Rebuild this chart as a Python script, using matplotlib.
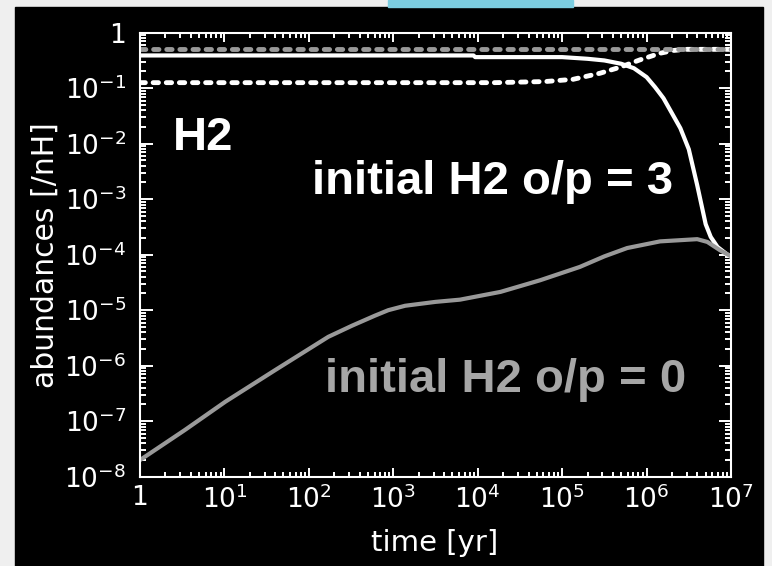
import numpy as np
import matplotlib
matplotlib.use("Agg")
import matplotlib.pyplot as plt
from matplotlib.patches import Rectangle
from matplotlib.ticker import LogLocator, FuncFormatter, NullFormatter

# values, as log10(time/yr) and log10(abundance/nH)
# initial o/p = 3 : ortho (solid white) and para (dashed white)
ortho3_logt = [0, 3.95, 3.97, 5.0, 5.3, 5.5, 5.7, 5.85, 6.0, 6.1, 6.2, 6.3, 6.4,
               6.5, 6.6, 6.7, 6.76, 6.84, 6.95, 7.0]
ortho3_logx = [-0.41, -0.41, -0.44, -0.44, -0.47, -0.50, -0.56, -0.64, -0.80, -0.98,
               -1.18, -1.45, -1.72, -2.10, -2.75, -3.45, -3.68, -3.86, -3.99, -4.04]
para3_logt = [0, 4.2, 4.8, 5.13, 5.45, 5.69, 5.92, 6.16, 6.32, 6.45, 6.6, 7.0]
para3_logx = [-0.90, -0.90, -0.88, -0.84, -0.73, -0.62, -0.49, -0.37, -0.32, -0.30,
              -0.30, -0.30]
# initial o/p = 0 : ortho (solid grey) and para (dashed grey)
ortho0_logt = [0, 0.53, 1.01, 1.6, 2.23, 2.51, 2.78, 2.94, 3.14, 3.5, 3.79, 4.27,
               4.74, 5.21, 5.5, 5.77, 6.16, 6.6, 6.72, 6.87, 7.0]
ortho0_logx = [-7.70, -7.16, -6.65, -6.08, -5.48, -5.28, -5.10, -5.00, -4.92, -4.85,
               -4.81, -4.67, -4.46, -4.22, -4.03, -3.88, -3.76, -3.72, -3.77, -3.92,
               -4.03]
para0_logt = [0, 7.0]
para0_logx = [-0.30, -0.30]

W, H = 772, 566
fig = plt.figure(figsize=(W / 100, H / 100), dpi=100, facecolor="#efefef")
# black slide background and the bit of blue at the top
fig.patches.append(Rectangle((15 / W, 0), (763 - 15) / W, (H - 7) / H,
                             transform=fig.transFigure, color="black", zorder=-2))
fig.patches.append(Rectangle((388 / W, 1 - 7 / H), (573 - 388) / W, 7 / H,
                             transform=fig.transFigure, color="#7ccde0", zorder=-2))

ax = fig.add_axes([140 / W, (H - 476.7) / H, (731 - 140) / W, (476.7 - 32.7) / H])
ax.set_facecolor("black")

grey = "#999999"
ax.plot(10.0 ** np.array(ortho3_logt), 10.0 ** np.array(ortho3_logx),
        color="white", lw=3, solid_capstyle="round", solid_joinstyle="round")
ax.plot(10.0 ** np.array(para3_logt), 10.0 ** np.array(para3_logx),
        color="white", lw=3.5, ls=(0, (1.1, 1.6)), dash_capstyle="round")
ax.plot(10.0 ** np.array(ortho0_logt), 10.0 ** np.array(ortho0_logx),
        color=grey, lw=3, solid_capstyle="round", solid_joinstyle="round")
ax.plot(10.0 ** np.array(para0_logt), 10.0 ** np.array(para0_logx),
        color=grey, lw=3.5, ls=(0, (1.1, 1.6)), dash_capstyle="round")

ax.set_xscale("log")
ax.set_yscale("log")
ax.set_xlim(1, 1e7)
ax.set_ylim(1e-8, 1)

def fmt(v, pos):
    e = int(round(np.log10(v)))
    if e == 0:
        return "1"
    return r"$\mathregular{10^{%d}}$" % e

for axis in (ax.xaxis, ax.yaxis):
    axis.set_major_locator(LogLocator(base=10, numticks=20))
    axis.set_minor_locator(LogLocator(base=10, subs=np.arange(2, 10), numticks=100))
    axis.set_major_formatter(FuncFormatter(fmt))
    axis.set_minor_formatter(NullFormatter())

for s in ax.spines.values():
    s.set_color("white")
    s.set_linewidth(1.5)

ax.tick_params(axis="x", which="major", direction="in", top=True, length=6.5,
               width=1.4, color="white", labelcolor="white", labelsize=19, pad=6)
ax.tick_params(axis="x", which="minor", direction="in", top=True, length=3.3,
               width=1.4, color="white")
ax.tick_params(axis="y", which="major", direction="in", right=True, length=9,
               width=1.4, color="white", labelcolor="white", labelsize=19, pad=10)
ax.tick_params(axis="y", which="minor", direction="in", right=True, length=4.6,
               width=1.4, color="white")

fig.text(435 / W, 1 - 543 / H, "time [yr]", color="white", fontsize=21,
         ha="center", va="center")
fig.text(45 / W, 1 - 255 / H, "abundances [/nH]", color="white", fontsize=21.5,
         ha="center", va="center", rotation=90)

bold = dict(family="Liberation Sans", weight="bold", fontsize=34, ha="left",
            va="baseline")
fig.text(173 / W, 1 - 150 / H, "H2", color="white", **bold)
fig.text(312 / W, 1 - 194 / H, "initial H2 o/p = 3", color="white", **bold)
fig.text(325 / W, 1 - 392 / H, "initial H2 o/p = 0", color="#a6a6a6", **bold)

fig.savefig("out.png", dpi=100, facecolor=fig.get_facecolor())
